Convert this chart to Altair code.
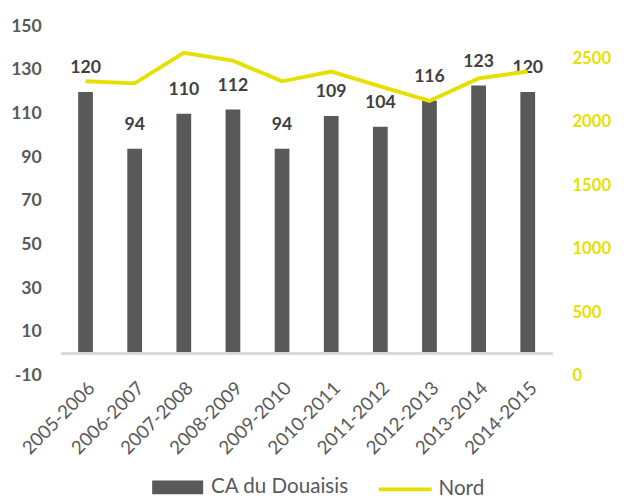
import altair as alt
import pandas as pd

seasons = ["2005-2006", "2006-2007", "2007-2008", "2008-2009", "2009-2010",
           "2010-2011", "2011-2012", "2012-2013", "2013-2014", "2014-2015"]
douaisis = [120, 94, 110, 112, 94, 109, 104, 116, 123, 120]
nord = [2318, 2302, 2543, 2481, 2318, 2395, 2279, 2163, 2341, 2395]
left_ticks = [-10, 10, 30, 50, 70, 90, 110, 130, 150]
right_ticks = [0, 500, 1000, 1500, 2000, 2500]

df = pd.DataFrame({
    "season": seasons,
    "douaisis": douaisis,
    "nord": nord,
    "s1": ["CA du Douaisis"] * len(seasons),
    "s2": ["Nord"] * len(seasons),
})

GREY = "#595959"
YELLOW = "#E6E000"
FONT = "Lato"

x_enc = alt.X("season:N", sort=seasons, title=None,
              scale=alt.Scale(paddingInner=0.7, paddingOuter=0.35),
              axis=alt.Axis(labelAngle=-45, domain=False, ticks=False,
                            labelFontSize=19, labelColor=GREY, labelPadding=3,
                            labelFont=FONT))

y_left = alt.Y("douaisis:Q", title=None,
               scale=alt.Scale(domain=[-10, 150], nice=False, zero=False),
               axis=alt.Axis(values=left_ticks, grid=False, domain=False, ticks=False,
                             labelExpr="'' + datum.value",
                             labelFontSize=18, labelFontWeight="bold", labelColor=GREY,
                             labelPadding=20, labelFont=FONT))

base = alt.Chart(df)

bars = base.mark_bar(color=GREY).encode(
    x=x_enc,
    y=y_left,
    color=alt.Color("s1:N", scale=alt.Scale(domain=["CA du Douaisis"], range=[GREY]),
                    legend=alt.Legend(title=None, orient="none", legendX=93, legendY=444,
                                      symbolType="M-1,-0.27H1V0.27H-1Z", symbolSize=2704,
                                      symbolStrokeWidth=0, padding=0, labelFontSize=21,
                                      labelColor=GREY, labelFont=FONT, labelOffset=8)),
)

labels = base.mark_text(baseline="middle", dy=-24, fontSize=18, fontWeight="bold",
                        color="#404040", font=FONT).encode(
    x=alt.X("season:N", sort=seasons),
    y=alt.Y("douaisis:Q"),
    text=alt.Text("douaisis:Q"),
)

zero_rule = base.mark_rule(color="#D9D9D9", strokeWidth=2).encode(
    y=alt.datum(0),
)

left = alt.layer(bars, zero_rule, labels)

line = base.mark_line(strokeWidth=4).encode(
    x=alt.X("season:N", sort=seasons),
    y=alt.Y("nord:Q", title=None,
            scale=alt.Scale(domain=[0, 2750], nice=False),
            axis=alt.Axis(orient="right", values=right_ticks, grid=False, domain=False,
                          ticks=False, format="d", labelFontSize=17, labelFontWeight="bold",
                          labelColor=YELLOW, labelPadding=20, labelFont=FONT)),
    color=alt.Color("s2:N", scale=alt.Scale(domain=["Nord"], range=[YELLOW]),
                    legend=alt.Legend(title=None, orient="none", legendX=322, legendY=443,
                                      symbolType="stroke", symbolSize=2916,
                                      symbolStrokeWidth=4, padding=0, labelFontSize=21,
                                      labelColor=GREY, labelFont=FONT, labelOffset=5)),
)

chart = alt.layer(left, line).resolve_scale(
    y="independent", color="independent"
).properties(
    width=501, height=356,
    autosize=alt.AutoSizeParams(type="none"),
    padding={"left": 54, "top": 14, "right": 68, "bottom": 121},
).configure_view(stroke=None)

chart.save("out.html", embed_options={"renderer": "svg", "actions": False})
